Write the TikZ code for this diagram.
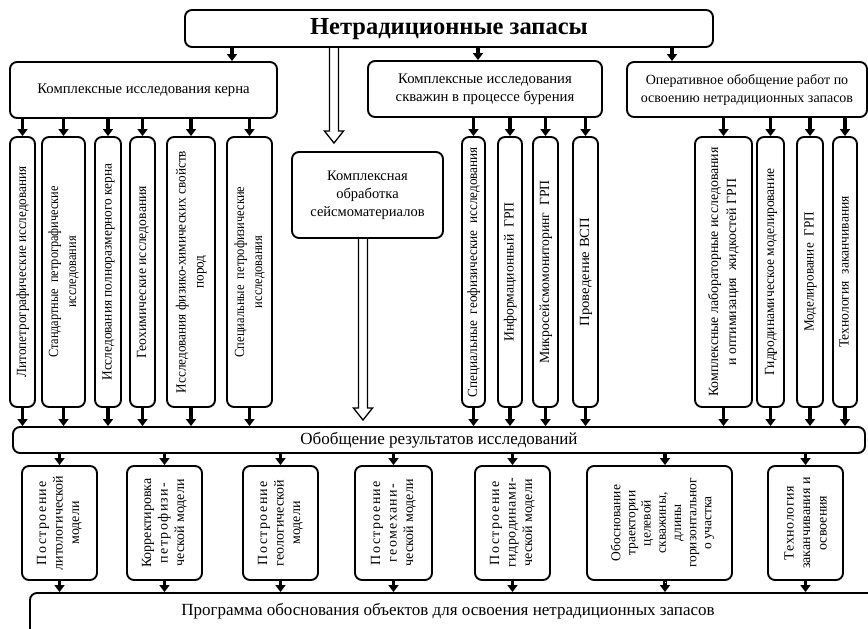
\documentclass[tikz,border=0pt]{standalone}
\usepackage{fontspec}
\setmainfont{Liberation Serif}
\newfontfamily\lsp[LetterSpace=10]{Liberation Serif}
\newfontfamily\lspb[LetterSpace=4]{Liberation Serif}
\usetikzlibrary{arrows.meta,fit,calc}
\tikzset{
  box/.style={draw, line width=1.9pt, rounded corners=7pt, inner sep=0pt},
  arr/.style={line width=3.2pt, -{Triangle[width=10pt,length=7pt]}},
  htxt/.style={font=\fontsize{14.7}{18}\selectfont, align=center, inner sep=0pt},
  vtxt/.style={rotate=90, font=\fontsize{14}{18}\selectfont, inner sep=0pt},
  mtxt/.style={rotate=90, font=\fontsize{14}{16.5}\selectfont, align=center, inner sep=0pt},
  hollow/.style={line width=1.3pt, line join=miter},
}
\newcommand\bx[5]{\node[box, fit={(#2,#3) (#4,#5)}] (#1) {};}
\newcommand\vs[2]{\scalebox{#1}[1]{\begin{tabular}{@{}c@{}}#2\end{tabular}}}
\newcommand\harrow[2]{\draw[hollow] let \p1=(#1), \p2=(#2) in
  (\x1-4.5,\y1) -- (\x1-4.5,\y2+12) -- (\x1-9.5,\y2+12) -- (\x1,\y2) --
  (\x1+9.5,\y2+12) -- (\x1+4.5,\y2+12) -- (\x1+4.5,\y1);}
\begin{document}
\begin{tikzpicture}[x=1pt,y=-1pt]
\useasboundingbox (0,0) rectangle (868,629);
% main boxes
\bx{title}{185}{10}{713}{47}
\bx{kern}{10}{62}{277}{118}
\bx{skv}{368}{61}{602}{117}
\bx{oper}{627}{62}{867}{117}
\bx{seis}{292}{152}{443}{238}
\bx{obob}{13}{427}{865}{453}
\bx{prog}{30}{593}{890}{660}
\node[font=\fontsize{24.5}{28}\selectfont\bfseries, inner sep=0pt] (titlet) at (449,29) {Нетрадиционные запасы};
\node[htxt] (kernt) at (kern.center) {Комплексные исследования керна};
\node[htxt] (skvt) at (skv.center) {Комплексные исследования\\скважин в процессе бурения};
\node[htxt, font=\fontsize{14}{18}\selectfont] (opert) at (oper.center) {Оперативное обобщение работ по\\освоению нетрадиционных запасов};
\node[htxt, font=\fontsize{14.5}{18}\selectfont] (seist) at (seis.center) {Комплексная\\обработка\\сейсмоматериалов};
\node[htxt, font=\fontsize{17}{20}\selectfont] (obobt) at (439,440) {Обобщение результатов исследований};
\node[htxt, font=\fontsize{17}{20}\selectfont] (progt) at (448,611) {Программа обоснования объектов для освоения нетрадиционных запасов};
% columns
\foreach \n/\a/\b in {c1/10/35, c2/42/85, c3/95/121, c4/130/155, c5/167/215, c6/227/272,
  c7/462/485, c8/498/522, c9/533/558, c10/573/598, c11/695/752, c12/757/784, c13/797/823, c14/833/857}
  {\bx{\n}{\a}{137}{\b}{407}}
\node[vtxt] (c1t) at (c1.center) {\vs{0.94}{Литопетрографические исследования}};
\node[vtxt] (c2t) at (c2.center) {\vs{0.88}{Стандартные\ \ петрографические\\исследования}};
\node[vtxt] (c3t) at (c3.center) {\vs{0.955}{Исследования полноразмерного керна}};
\node[vtxt] (c4t) at (c4.center) {\vs{0.98}{Геохимические исследования}};
\node[vtxt] (c5t) at (c5.center) {\vs{0.945}{Исследования физико-химических свойств\\пород}};
\node[vtxt] (c6t) at (c6.center) {\vs{0.89}{Специальные\ \ петрофизические\\исследования}};
\node[vtxt] (c7t) at (c7.center) {\vs{0.945}{Специальные\ \ геофизические\ \ исследования}};
\node[vtxt] (c8t) at (c8.center) {\vs{0.98}{Информационный\ \ ГРП}};
\node[vtxt] (c9t) at (c9.center) {\vs{0.98}{Микросейсмомониторинг\ \ ГРП}};
\node[vtxt] (c10t) at (c10.center) {\vs{1.05}{Проведение ВСП}};
\node[vtxt] (c11t) at (c11.center) {\vs{0.99}{Комплексные лабораторные исследования\\и оптимизация\ \ жидкостей ГРП}};
\node[vtxt] (c12t) at (c12.center) {\vs{0.965}{Гидродинамическое моделирование}};
\node[vtxt] (c13t) at (c13.center) {\vs{0.94}{Моделирование\ \ ГРП}};
\node[vtxt] (c14t) at (c14.center) {\vs{0.97}{Технология\ \ заканчивания}};
% models
\foreach \n/\a/\b in {m1/22/97, m2/127/202, m3/243/318, m4/355/432, m5/475/550, m6/587/732, m7/768/843}
  {\bx{\n}{\a}{466}{\b}{580}}
\node[mtxt] (m1t) at (m1.center) {{\lsp Построение}\\литологической\\модели};
\node[mtxt] (m2t) at (m2.center) {Корректировка\\{\lsp петрофизи-}\\ческой модели};
\node[mtxt] (m3t) at (m3.center) {{\lsp Построение}\\геологической\\модели};
\node[mtxt] (m4t) at (m4.center) {{\lsp Построение}\\{\lsp геомехани-}\\ческой модели};
\node[mtxt] (m5t) at (m5.center) {{\lsp Построение}\\{\lspb гидродинами-}\\ческой модели};
\node[mtxt, font=\fontsize{13.5}{15.2}\selectfont] (m6t) at ([xshift=3pt]m6.center) {Обоснование\\траектории\\целевой\\скважины,\\длины\\горизонтальног\\о участка};
\node[mtxt] (m7t) at (m7.center) {{\lspb Технология}\\заканчивания и\\освоения};
% arrows from title
\coordinate (a1) at (232,0);
\coordinate (a2) at (478,0);
\coordinate (a3) at (672,0);
\coordinate (h1) at (334,0);
\coordinate (h2) at (363,0);
\draw[arr] (title.south -| a1) -- (kern.north -| a1);
\draw[arr] (title.south -| a2) -- (skv.north -| a2);
\draw[arr] (title.south -| a3) -- (oper.north -| a3);
\harrow{title.south -| h1}{[yshift=8pt]seis.north -| h1}
\harrow{seis.south -| h2}{[yshift=6pt]obob.north -| h2}
% arrows to columns
\foreach \n in {c1,c2,c3,c4,c5,c6} {\draw[arr] (kern.south -| \n.north) -- (\n.north);}
\foreach \n in {c7,c8,c9,c10} {\draw[arr] (skv.south -| \n.north) -- (\n.north);}
\foreach \n in {c11,c12,c13,c14} {\draw[arr] (oper.south -| \n.north) -- (\n.north);}
\foreach \n in {c1,c2,c3,c4,c5,c6,c7,c8,c9,c10,c11,c12,c13,c14} {\draw[arr] (\n.south) -- (obob.north -| \n.south);}
% arrows to models
\foreach \n in {m1,m2,m3,m4,m5,m7} {\draw[arr] (obob.south -| \n.north) -- (\n.north);
  \draw[arr] (\n.south) -- (prog.north -| \n.south);}
\coordinate (m6x) at (665,0);
\draw[arr] (obob.south -| m6x) -- (m6.north -| m6x);
\draw[arr] (m6.south -| m6x) -- (prog.north -| m6x);
\draw[white, line width=0.8pt] ([yshift=-1pt]m6.south -| m6x) -- ([yshift=9pt]prog.north -| m6x);
\end{tikzpicture}
\end{document}
